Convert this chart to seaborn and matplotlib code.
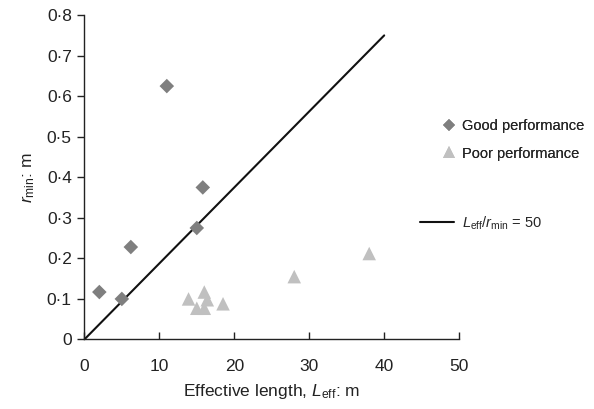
import matplotlib
matplotlib.use("Agg")
import matplotlib.pyplot as plt
from matplotlib.lines import Line2D
import seaborn as sns
import pandas as pd

# ---- data ----
good_x = [2.0, 5.0, 6.2, 11.0, 15.0, 15.8]
good_y = [0.117, 0.100, 0.228, 0.625, 0.275, 0.375]
poor_x = [13.9, 15.0, 16.0, 16.0, 16.4, 18.5, 28.0, 38.0]
poor_y = [0.100, 0.077, 0.077, 0.117, 0.098, 0.088, 0.155, 0.212]
line_x = [0, 40]
line_y = [0, 0.75]
x_ticks = [0, 10, 20, 30, 40, 50]
y_ticks = [0, 0.1, 0.2, 0.3, 0.4, 0.5, 0.6, 0.7, 0.8]
y_tick_labels = ["0", "0·1", "0·2", "0·3", "0·4", "0·5", "0·6", "0·7", "0·8"]
groups = ["Good performance", "Poor performance"]

df = pd.DataFrame({
    "x": good_x + poor_x,
    "y": good_y + poor_y,
    "group": [groups[0]] * len(good_x) + [groups[1]] * len(poor_x),
})

sns.set_theme(style="ticks")
plt.rcParams["font.family"] = ["Liberation Sans", "DejaVu Sans"]
plt.rcParams["mathtext.fontset"] = "custom"
plt.rcParams["mathtext.rm"] = "Liberation Sans"
plt.rcParams["mathtext.it"] = "Liberation Sans:italic"

fig = plt.figure(figsize=(5.94, 4.09), dpi=100)
ax = fig.add_axes([0.142, 0.170, 0.631, 0.793])

colors = {groups[0]: "#7f7f7f", groups[1]: "#c0c0c0"}
markers = {groups[0]: "D", groups[1]: "^"}
sizes_map = {groups[0]: 55, groups[1]: 95}
for g in groups:
    sub = df[df["group"] == g]
    sns.scatterplot(data=sub, x="x", y="y", color=colors[g], marker=markers[g],
                    s=sizes_map[g], edgecolor="none", linewidth=0, ax=ax,
                    legend=False, zorder=3)

sns.lineplot(x=line_x, y=line_y, color="#111111", linewidth=1.5, ax=ax,
             legend=False, zorder=2)

ax.set_xlim(0, 50)
ax.set_ylim(0, 0.8)
ax.set_xticks(x_ticks)
ax.set_xticklabels([str(t) for t in x_ticks])
ax.set_yticks(y_ticks)
ax.set_yticklabels(y_tick_labels)
sns.despine(ax=ax)
for sp in ["left", "bottom"]:
    ax.spines[sp].set_color("#222222")
    ax.spines[sp].set_linewidth(1.0)
ax.tick_params(axis="x", direction="in", length=5, width=1, labelsize=12.5,
               colors="#222222", pad=14)
ax.tick_params(axis="y", direction="out", length=5, width=1, labelsize=12.5,
               colors="#222222", pad=4)

ax.set_xlabel(r"Effective length, $\mathit{L}_{\mathrm{eff}}$: m", fontsize=12.5,
              color="#222222", labelpad=6)
ax.set_ylabel(r"$\mathit{r}_{\mathrm{min}}$: m", fontsize=12.5, color="#222222",
              labelpad=7)

h1 = [Line2D([], [], linestyle="none", marker="D", color=colors[groups[0]],
             markersize=6.5, markeredgewidth=0),
      Line2D([], [], linestyle="none", marker="^", color=colors[groups[1]],
             markersize=9, markeredgewidth=0)]
leg1 = fig.legend(h1, groups, loc="upper left", bbox_to_anchor=(0.722, 0.742),
                  frameon=False, fontsize=10.5, handlelength=1.0,
                  handletextpad=0.35, labelspacing=0.95)
h2 = [Line2D([], [], color="#111111", linewidth=1.5)]
leg2 = fig.legend(h2, [r"$\mathit{L}_{\mathrm{eff}}/\mathit{r}_{\mathrm{min}}$ = 50"],
                  loc="upper left", bbox_to_anchor=(0.685, 0.508),
                  frameon=False, fontsize=10.5, handlelength=2.3,
                  handletextpad=0.6)
fig.add_artist(leg1)

fig.savefig("out.png", dpi=100)
